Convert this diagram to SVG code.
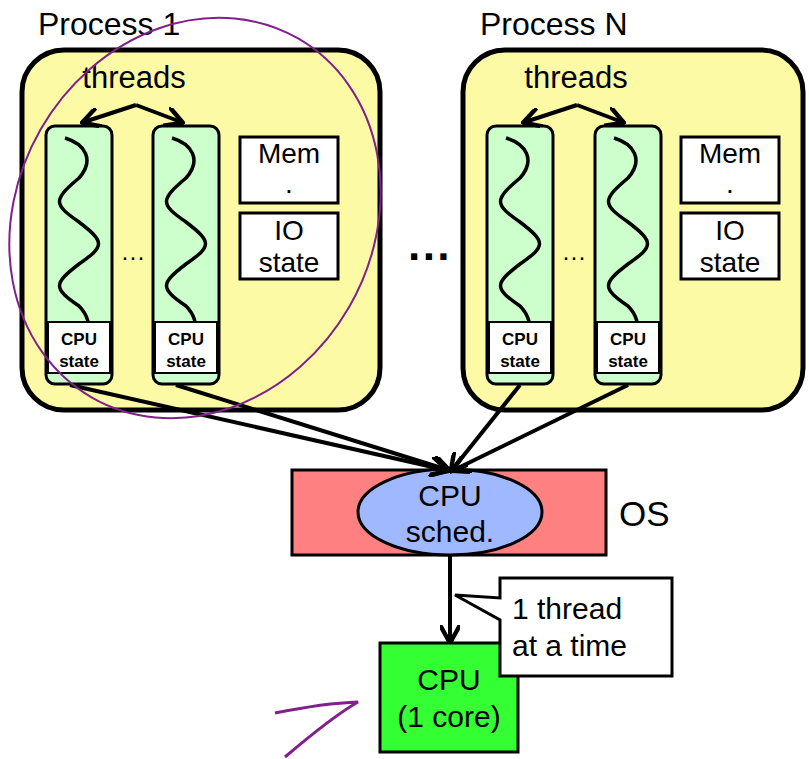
<svg xmlns="http://www.w3.org/2000/svg" width="809" height="759" viewBox="0 0 809 759">
<defs>
<style>
text{font-family:"Liberation Sans",Arial,sans-serif;fill:#000}
.proc{fill:#fdfaa6;stroke:#000;stroke-width:5}
.col{fill:#ccffcc;stroke:#000;stroke-width:3}
.cs{fill:#fff;stroke:#000;stroke-width:2}
.box{fill:#fff;stroke:#000;stroke-width:3}
.w{fill:none;stroke:#000;stroke-width:3.5}
.ln{fill:none;stroke:#000;stroke-width:4}
.t26{font-size:28px}
.t15{font-size:17px;font-weight:bold;font-family:"Liberation Sans Narrow","Liberation Sans",Arial,sans-serif}
</style>
<marker id="ah" viewBox="0 0 10 10" refX="8" refY="5" markerWidth="5" markerHeight="5" orient="auto"><path d="M0,0 L9,5 L0,10" fill="none" stroke="#000" stroke-width="2.2"/></marker>
</defs>
<g id="process1">
<text x="38" y="35" font-size="32">Process 1</text>
<rect class="proc" x="22" y="50" width="358" height="360" rx="42"/>
<text x="134" y="88" font-size="31" text-anchor="middle">threads</text>
<rect class="col" x="46" y="126" width="66" height="258" rx="9"/>
<rect class="col" x="153" y="126" width="66" height="258" rx="9"/>
<path class="w" transform="translate(79,138)" d="M-14,0 C6,6 16,22 0,40 C-26,62 -26,66 0,84 C26,104 26,108 0,126 C-26,146 -26,150 0,168 C10,178 10,188 10,195"/>
<path class="w" transform="translate(186,138)" d="M-14,0 C6,6 16,22 0,40 C-26,62 -26,66 0,84 C26,104 26,108 0,126 C-26,146 -26,150 0,168 C10,178 10,188 10,195"/>
<rect class="cs" x="48" y="322" width="62" height="51"/>
<rect class="cs" x="155" y="322" width="62" height="51"/>
<text x="79" y="345" class="t15" text-anchor="middle">CPU</text><text x="79" y="367" class="t15" text-anchor="middle">state</text>
<text x="186" y="345" class="t15" text-anchor="middle">CPU</text><text x="186" y="367" class="t15" text-anchor="middle">state</text>
<text x="133" y="265" font-size="24" text-anchor="middle">···</text>
<rect class="box" x="240" y="137" width="98" height="66"/>
<text x="289" y="163" class="t26" text-anchor="middle">Mem</text><text x="289" y="193" class="t26" text-anchor="middle">.</text>
<rect class="box" x="240" y="213" width="98" height="66"/>
<text x="289" y="240" class="t26" text-anchor="middle">IO</text><text x="289" y="272" class="t26" text-anchor="middle">state</text>
<path class="ln" d="M136,105 L84,122" marker-end="url(#ah)"/>
<path class="ln" d="M136,105 L181,122" marker-end="url(#ah)"/>
</g>
<g id="processN">
<text x="480" y="35" font-size="32">Process N</text>
<rect class="proc" x="463" y="50" width="340" height="360" rx="42"/>
<text x="576" y="88" font-size="31" text-anchor="middle">threads</text>
<rect class="col" x="487" y="126" width="66" height="258" rx="9"/>
<rect class="col" x="595" y="126" width="66" height="258" rx="9"/>
<path class="w" transform="translate(520,138)" d="M-14,0 C6,6 16,22 0,40 C-26,62 -26,66 0,84 C26,104 26,108 0,126 C-26,146 -26,150 0,168 C10,178 10,188 10,195"/>
<path class="w" transform="translate(628,138)" d="M-14,0 C6,6 16,22 0,40 C-26,62 -26,66 0,84 C26,104 26,108 0,126 C-26,146 -26,150 0,168 C10,178 10,188 10,195"/>
<rect class="cs" x="489" y="322" width="62" height="51"/>
<rect class="cs" x="597" y="322" width="62" height="51"/>
<text x="520" y="345" class="t15" text-anchor="middle">CPU</text><text x="520" y="367" class="t15" text-anchor="middle">state</text>
<text x="628" y="345" class="t15" text-anchor="middle">CPU</text><text x="628" y="367" class="t15" text-anchor="middle">state</text>
<text x="574" y="265" font-size="24" text-anchor="middle">···</text>
<rect class="box" x="681" y="137" width="98" height="66"/>
<text x="730" y="163" class="t26" text-anchor="middle">Mem</text><text x="730" y="193" class="t26" text-anchor="middle">.</text>
<rect class="box" x="681" y="213" width="98" height="66"/>
<text x="730" y="240" class="t26" text-anchor="middle">IO</text><text x="730" y="272" class="t26" text-anchor="middle">state</text>
<path class="ln" d="M577,105 L525,122" marker-end="url(#ah)"/>
<path class="ln" d="M577,105 L622,122" marker-end="url(#ah)"/>
</g>
<text x="430" y="272" font-size="44" font-weight="bold" text-anchor="middle">···</text>
<g id="os">
<rect x="292" y="470" width="314" height="85" fill="#ff8080" stroke="#000" stroke-width="3"/>
<ellipse cx="450" cy="512" rx="92" ry="43" fill="#a0b8ff" stroke="#000" stroke-width="3"/>
<text x="450" y="506" font-size="30" text-anchor="middle">CPU</text>
<text x="450" y="542" font-size="30" text-anchor="middle">sched.</text>
<text x="619" y="526" font-size="35">OS</text>
</g>
<g id="connectors">
<path class="ln" d="M70,385 L446,470" marker-end="url(#ah)"/>
<path class="ln" d="M176,385 L448,470" marker-end="url(#ah)"/>
<path class="ln" d="M520,385 L452,470" marker-end="url(#ah)"/>
<path class="ln" d="M628,385 L454,470" marker-end="url(#ah)"/>
<path class="ln" d="M450,555 L450,641" marker-end="url(#ah)"/>
</g>
<g id="cpu">
<rect x="380" y="643" width="138" height="109" fill="#33ff33" stroke="#000" stroke-width="3"/>
<text x="449" y="690" font-size="30" text-anchor="middle">CPU</text>
<text x="449" y="727" font-size="30" text-anchor="middle">(1 core)</text>
</g>
<g id="callout">
<path d="M500,578 L672,578 L672,676 L500,676 L500,620 L455,595 L500,598 Z" fill="#fff" stroke="#000" stroke-width="3"/>
<text x="512" y="619" font-size="30">1 thread</text>
<text x="512" y="656" font-size="30">at a time</text>
</g>
<g id="annotations" fill="none" stroke="#80208a" stroke-width="2">
<ellipse cx="195" cy="218" rx="178" ry="207" transform="rotate(30 195 218)"/>
<path d="M275,713 C300,708 330,703 358,702 C335,715 305,740 285,757" stroke-width="3"/>
</g>
</svg>
